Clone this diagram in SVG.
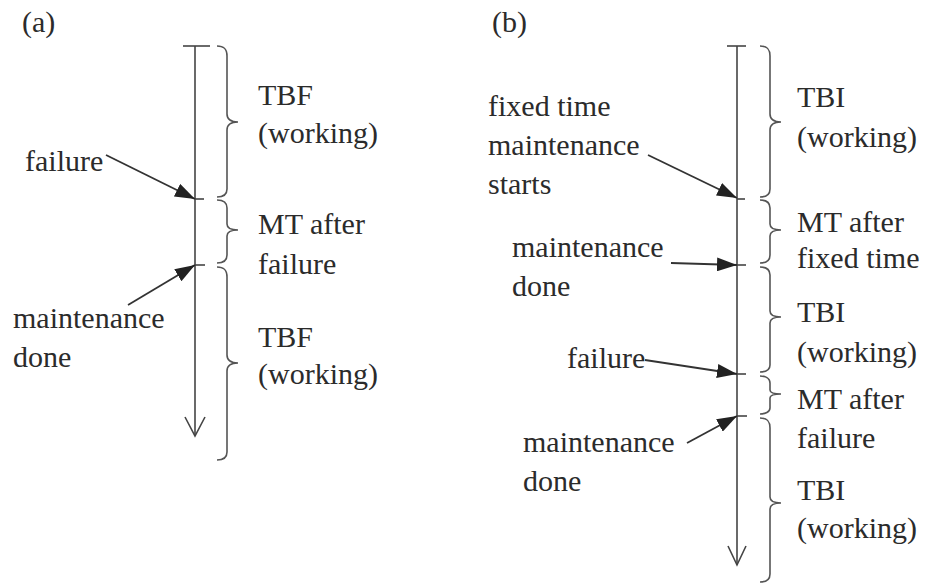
<svg xmlns="http://www.w3.org/2000/svg" width="925" height="588" viewBox="0 0 925 588">
  <style>
    svg text, g text { font-family: 'Liberation Serif', 'Times New Roman', serif !important; font-size: 30px; fill: #2b2b2b; }
    .axis { stroke: #444; stroke-width: 1.6; fill: none; }
    .brace { stroke: #555; stroke-width: 1.6; fill: none; }
    .tick { stroke: #444; stroke-width: 1.6; }
    .pointer { stroke: #333; stroke-width: 1.8; fill: none; marker-end: url(#head); }
  </style>
  <defs>
    <marker id="head" viewBox="0 0 20 14" refX="20" refY="7" markerWidth="20" markerHeight="14" markerUnits="userSpaceOnUse" orient="auto">
      <path d="M0,0 L20,7 L0,14 Z" fill="#222"/>
    </marker>
  </defs>
  <rect width="925" height="588" fill="#fff"/>

  <!-- panel (a) -->
  <g id="panel-a">
    <text x="22" y="32">(a)</text>
    <g id="a-timeline">
      <line class="tick" x1="183" y1="46" x2="210" y2="46"/>
      <line class="axis" x1="195" y1="46" x2="195" y2="436"/>
      <polyline class="axis" points="185,417 195,436 205,417"/>
      <line class="tick" x1="195" y1="199" x2="204" y2="199"/>
      <line class="tick" x1="195" y1="265" x2="205" y2="265"/>
    </g>
    <g id="a-tbf1">
      <path class="brace" d="M217,46 C223,46 227,48 227,56 L227,114 C227,120 231,122 238,122 C231,122 227,124 227,130 L227,189 C227,195 223,197 217,197"/>
      <text x="258" y="105">TBF</text>
      <text x="258" y="143">(working)</text>
    </g>
    <g id="a-mt">
      <path class="brace" d="M217,200 C223,200 227,202 227,208 L227,224 C227,228 231,230 238,230 C231,230 227,232 227,236 L227,255 C227,261 223,263 217,263"/>
      <text x="258" y="234">MT after</text>
      <text x="258" y="274">failure</text>
    </g>
    <g id="a-tbf2">
      <path class="brace" d="M217,267 C223,267 227,269 227,277 L227,355 C227,361 231,363 238,363 C231,363 227,365 227,371 L227,452 C227,458 223,460 217,460"/>
      <text x="258" y="347">TBF</text>
      <text x="258" y="384">(working)</text>
    </g>
    <g id="a-failure">
      <text x="25" y="171">failure</text>
    </g>
    <g id="a-done">
      <text x="13" y="328">maintenance</text>
      <text x="13" y="367">done</text>
    </g>
  </g>

  <!-- panel (b) -->
  <g id="panel-b">
    <text x="492" y="32">(b)</text>
    <g id="b-timeline">
      <line class="tick" x1="727" y1="46" x2="746" y2="46"/>
      <line class="axis" x1="737" y1="46" x2="737" y2="565"/>
      <polyline class="axis" points="728,546 737,565 746,546"/>
      <line class="tick" x1="737" y1="199" x2="745" y2="199"/>
      <line class="tick" x1="737" y1="265" x2="746" y2="265"/>
      <line class="tick" x1="737" y1="374" x2="746" y2="374"/>
      <line class="tick" x1="737" y1="416" x2="747" y2="416"/>
    </g>
    <g id="b-tbi1">
      <path class="brace" d="M760,46 C766,46 770,48 770,56 L770,114 C770,120 774,122 781,122 C774,122 770,124 770,130 L770,189 C770,195 766,197 760,197"/>
      <text x="797" y="107">TBI</text>
      <text x="797" y="147">(working)</text>
    </g>
    <g id="b-mt-fixed">
      <path class="brace" d="M760,200 C766,200 770,202 770,208 L770,224 C770,228 774,230 781,230 C774,230 770,232 770,236 L770,255 C770,261 766,263 760,263"/>
      <text x="797" y="232">MT after</text>
      <text x="797" y="268">fixed time</text>
    </g>
    <g id="b-tbi2">
      <path class="brace" d="M760,267 C766,267 770,269 770,275 L770,311 C770,315 774,317 781,317 C774,317 770,319 770,323 L770,365 C770,370 766,372 760,372"/>
      <text x="797" y="322">TBI</text>
      <text x="797" y="362">(working)</text>
    </g>
    <g id="b-mt-failure">
      <path class="brace" d="M760,376 C765,376 770,378 770,383 L770,390 C770,393 774,394 781,394 C774,394 770,395 770,398 L770,408 C770,412 765,414 760,414"/>
      <text x="797" y="409">MT after</text>
      <text x="797" y="448">failure</text>
    </g>
    <g id="b-tbi3">
      <path class="brace" d="M760,418 C766,418 770,420 770,428 L770,497 C770,501 774,503 781,503 C774,503 770,505 770,509 L770,574 C770,580 766,582 760,582"/>
      <text x="797" y="500">TBI</text>
      <text x="797" y="538">(working)</text>
    </g>
    <g id="b-fixed-start">
      <text x="488" y="116">fixed time</text>
      <text x="488" y="155">maintenance</text>
      <text x="488" y="194">starts</text>
    </g>
    <g id="b-done1">
      <text x="512" y="257">maintenance</text>
      <text x="512" y="296">done</text>
    </g>
    <g id="b-failure">
      <text x="567" y="368">failure</text>
    </g>
    <g id="b-done2">
      <text x="523" y="452">maintenance</text>
      <text x="523" y="491">done</text>
    </g>
  </g>

  <!-- pointers from event labels to the time axes -->
  <g id="connectors">
    <line class="pointer" x1="106" y1="155" x2="195" y2="199"/>
    <line class="pointer" x1="128" y1="305" x2="195" y2="265"/>
    <line class="pointer" x1="648" y1="155" x2="737" y2="198"/>
    <line class="pointer" x1="671" y1="263" x2="737" y2="265"/>
    <line class="pointer" x1="645" y1="360" x2="737" y2="374"/>
    <line class="pointer" x1="687" y1="443" x2="737" y2="416"/>
  </g>
</svg>
